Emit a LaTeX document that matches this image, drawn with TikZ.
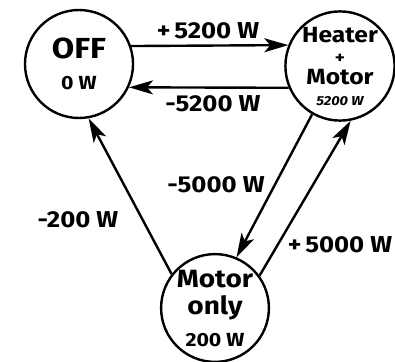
\documentclass[tikz,border=0pt]{standalone}
\usepackage{fontspec}
\setmainfont{Fira Sans}[FakeStretch=1.12]
\usetikzlibrary{arrows.meta}

\begin{document}
\begin{tikzpicture}[x=1pt,y=-1pt,
  state/.style={draw,circle,line width=2.4pt,minimum size=106pt,inner sep=0pt,align=center},
  flow/.style={line width=2.4pt,-{Stealth[length=24pt,width=14pt,inset=6pt]}},
  watt/.style={font=\bfseries\fontsize{23}{23}\selectfont,inner sep=1pt}]
  \useasboundingbox (0,0) rectangle (395,361);
  \node[state,minimum size=108pt,font=\bfseries\fontsize{29}{31}\selectfont] (off) at (79,64)
    {OFF\\ \fontsize{19}{19}\selectfont 0 W};
  \node[state,font=\bfseries\fontsize{22}{21}\selectfont] (heat) at (340,66)
    {Heater\\ \fontsize{17}{17}\selectfont +\\ Motor\\ \fontsize{13}{13}\selectfont\itshape 5200 W};
  \node[state,font=\bfseries\fontsize{25}{27}\selectfont] (motor) at (215,308)
    {Motor\\ only\\[5pt] \fontsize{19}{19}\selectfont 200 W};
  \draw[flow] (off.19) -- (heat.158);
  \draw[flow] (heat.-157) -- (off.-25);
  \draw[flow] (motor.142) -- (off.-80);
  \draw[flow] (heat.-120) -- (motor.67);
  \draw[flow] (motor.36) -- (heat.-79);
  \node[watt] (plus5200) at (208,31) {+\,5200 W};
  \node[watt] (minus5200) at (213,104) {-5200 W};
  \node[watt] (minus200) at (78,220) {-200 W};
  \node[watt] (minus5000) at (216,185) {-5000 W};
  \node[watt] (plus5000) at (340,245) {+\,5000 W};
\end{tikzpicture}
\end{document}
